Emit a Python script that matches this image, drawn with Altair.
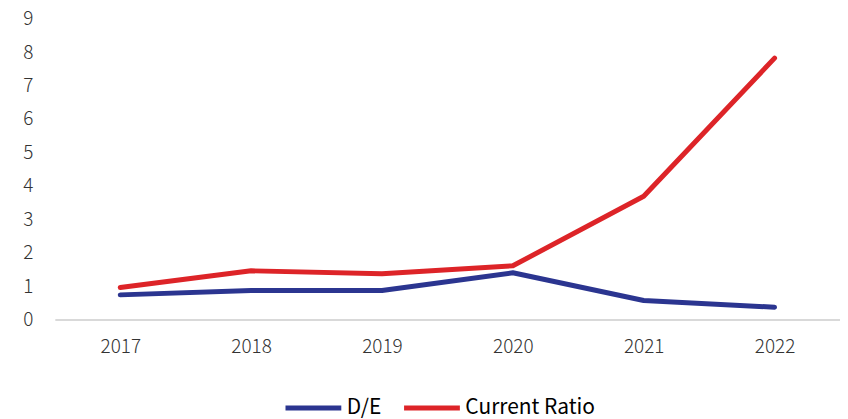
import altair as alt
import pandas as pd

years = ["2017", "2018", "2019", "2020", "2021", "2022"]
de_values = [0.74, 0.87, 0.87, 1.40, 0.57, 0.37]
current_ratio = [0.96, 1.46, 1.37, 1.61, 3.69, 7.82]
series_names = ["D/E", "Current Ratio"]
series_colors = ["#2B3590", "#DD2428"]
y_ticks = list(range(10))

rows = []
for y, v in zip(years, de_values):
    rows.append({"year": y, "value": v, "series": series_names[0]})
for y, v in zip(years, current_ratio):
    rows.append({"year": y, "value": v, "series": series_names[1]})
df = pd.DataFrame(rows)

FONT = "Noto Sans CJK SC"

chart = alt.Chart(df).mark_line(strokeWidth=5, strokeCap="round", strokeJoin="round").encode(
    x=alt.X("year:N", sort=years,
            scale=alt.Scale(type="point", padding=0.5),
            axis=alt.Axis(title=None, labelAngle=0, ticks=False, grid=False,
                          domainColor="#d9d9d9", domainWidth=2,
                          labelFont=FONT, labelFontSize=19, labelColor="#333333",
                          labelFontWeight=300, labelPadding=18)),
    y=alt.Y("value:Q",
            scale=alt.Scale(domain=[0, 9], nice=False, zero=True),
            axis=alt.Axis(title=None, values=y_ticks, ticks=False, grid=False, domain=False,
                          labelFont=FONT, labelFontSize=19, labelColor="#333333",
                          labelFontWeight=300, labelPadding=22, format="d")),
    color=alt.Color("series:N",
                    scale=alt.Scale(domain=series_names, range=series_colors),
                    sort=series_names,
                    legend=alt.Legend(title=None, orient="none", direction="horizontal",
                                      legendX=229, legendY=360,
                                      symbolType="stroke", symbolSize=3136,
                                      symbolStrokeWidth=5, padding=0,
                                      labelFont=FONT, labelFontSize=21, labelColor="#000000",
                                      labelOffset=3, columnPadding=12)),
).properties(
    width=788, height=302,
    autosize=alt.AutoSizeParams(type="none"),
    padding={"left": 47, "top": 10, "right": 0, "bottom": 99},
).configure(background="white").configure_view(stroke=None, strokeWidth=0)

chart.save("out.html", embed_options={"renderer": "svg", "actions": False})
